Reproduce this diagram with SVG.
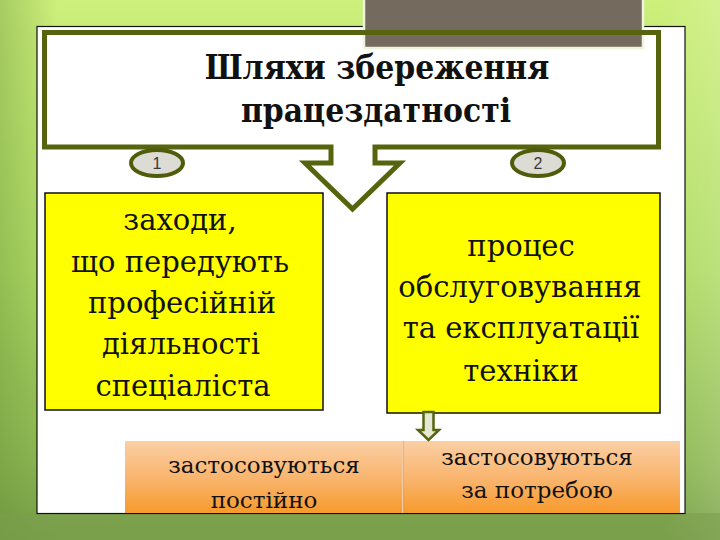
<svg xmlns="http://www.w3.org/2000/svg" width="720" height="540" viewBox="0 0 720 540">
<defs>
<linearGradient id="bgv" x1="0" y1="0" x2="0" y2="1">
<stop offset="0" stop-color="#cdef7c"/>
<stop offset="0.5" stop-color="#b0dc66"/>
<stop offset="0.85" stop-color="#8fb955"/>
<stop offset="1" stop-color="#79a04a"/>
</linearGradient>
<linearGradient id="bgh" x1="0" y1="0" x2="1" y2="0">
<stop offset="0" stop-color="#5f8a30" stop-opacity="0.35"/>
<stop offset="0.08" stop-color="#5f8a30" stop-opacity="0"/>
<stop offset="0.92" stop-color="#ffffff" stop-opacity="0"/>
<stop offset="1" stop-color="#ffffff" stop-opacity="0.15"/>
</linearGradient>
<linearGradient id="orange" x1="0" y1="0" x2="0" y2="1">
<stop offset="0" stop-color="#fbcfa4"/>
<stop offset="0.55" stop-color="#f9b36a"/>
<stop offset="1" stop-color="#f79a2c"/>
</linearGradient>
<style>
text.serif{font-family:'DejaVu Serif','Liberation Serif',serif;fill:#111;text-anchor:middle}
text.box{font-size:29px}
text.low{font-size:23px}
text.title{font-size:34px;font-weight:bold}
.olive{fill:none;stroke:#56650d;stroke-width:5}
.yel{fill:#ffff00;stroke:#111;stroke-width:1.5}
text.num{font-family:'Liberation Sans',Arial,sans-serif;font-size:16px;fill:#3a3a3a;text-anchor:middle}
.ell{fill:#dcdcd4;stroke:#4f5c0c;stroke-width:4}
</style>
</defs>
<rect x="0" y="0" width="720" height="540" fill="url(#bgv)"/>
<rect x="0" y="0" width="720" height="540" fill="url(#bgh)"/>
<rect x="0" y="513" width="720" height="27" fill="#7c9f4c" opacity="0.6"/>
<rect x="37" y="26.5" width="648" height="487" fill="#ffffff" stroke="#111" stroke-width="1.2"/>
<g id="grey-block">
<rect x="364" y="-2" width="279" height="50" fill="#746a5e" stroke="#eef3dc" stroke-width="2.5"/>
</g>
<g id="title">
<path class="olive" d="M44.5,32.5 H658.5 V147 H375 V163 H400 L352.5,209 L305,163 H331 V147 H44.5 Z"/>
<text class="serif title" transform="translate(377,79) scale(0.88,1)" x="0" y="0">Шляхи збереження</text>
<text class="serif title" transform="translate(376,122) scale(0.88,1)" x="0" y="0">працездатності</text>
</g>
<g id="badge-1">
<ellipse class="ell" cx="157" cy="163" rx="26" ry="13"/>
<text class="num" x="157" y="169">1</text>
</g>
<g id="badge-2">
<ellipse class="ell" cx="538" cy="163" rx="26" ry="13"/>
<text class="num" x="538" y="169">2</text>
</g>
<g id="box-left">
<rect class="yel" x="45" y="193" width="278" height="217"/>
<text class="serif box" x="180" y="230">заходи,</text>
<text class="serif box" x="180" y="272">що передують</text>
<text class="serif box" x="182" y="313">професійній</text>
<text class="serif box" x="181" y="354">діяльності</text>
<text class="serif box" x="183" y="396">спеціаліста</text>
</g>
<g id="box-right">
<rect class="yel" x="387" y="193" width="273" height="220"/>
<text class="serif box" x="521" y="256">процес</text>
<text class="serif box" x="520" y="297">обслуговування</text>
<text class="serif box" x="521" y="338">та експлуатації</text>
<text class="serif box" x="521" y="381">техніки</text>
</g>
<g id="result-left">
<rect x="125" y="441" width="277" height="72" fill="url(#orange)"/>
<text class="serif low" x="264" y="473">застосовуються</text>
<text class="serif low" x="264" y="508">постійно</text>
</g>
<g id="result-right">
<rect x="403" y="441" width="277" height="72" fill="url(#orange)"/>
<line x1="403" y1="441" x2="403" y2="513" stroke="#e89a50" stroke-width="1"/>
<text class="serif low" x="537" y="465">застосовуються</text>
<text class="serif low" x="537" y="498">за потребою</text>
</g>
<g id="connectors">
<path d="M423.5,412 H433.5 V430 H439 L428.5,440 L418,430 H423.5 Z" fill="#e4e8d4" stroke="#56650d" stroke-width="2.5" stroke-linejoin="miter"/>
</g>
</svg>
